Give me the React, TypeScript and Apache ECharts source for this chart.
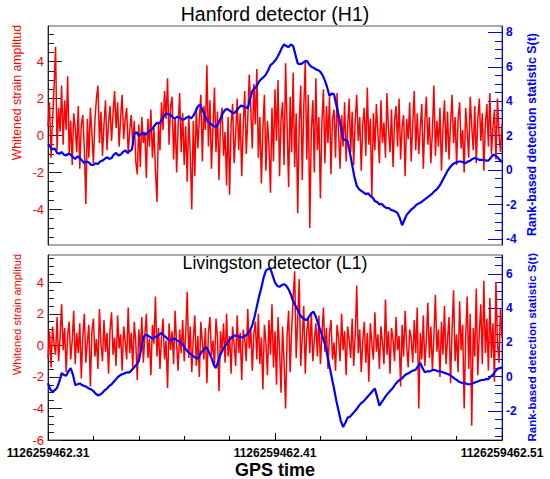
import React, { useEffect, useRef } from "react";
import * as echarts from "echarts";

// ---------- data ----------
const xTickLabels = ["1126259462.31", "1126259462.41", "1126259462.51"];
const xSpan = 0.2; // seconds shown

// Hanford whitened strain (left axis)
const h1Strain = [
  0.5, 1.8, -1.2, 0.9, 2.6, 4.8, -0.8, 1.5, 0.2, 2.7,
  -0.5, 1.9, 0.3, 3.2, -1.0, 0.8, -1.6, 1.2, 0.4, -0.9,
  1.6, -1.8, 0.6, 1.1, -0.7, -3.7, 0.9, -1.2, 1.5, 0.1,
  -1.5, 0.8, 2.0, 2.7, -0.4, 1.3, -1.1, 0.6, 1.9, -0.8,
  0.7, 1.6, -0.3, 1.2, 2.4, 0.4, 1.8, -0.6, 1.0, 2.2,
  -0.2, 0.9, 1.5, -1.0, 0.3, 1.1, -0.5, 0.8, -1.4, -2.1,
  0.6, -1.7, 1.0, -0.4, 0.2, -2.3, 0.9, -0.6, 1.4, -1.2,
  0.4, -1.9, -3.6, 0.7, -0.8, 1.8, 0.3, 2.4, 0.9, 3.1,
  -0.5, 1.6, 2.1, -1.3, 1.0, -2.0, 0.6, 2.3, -0.9, 1.2,
  -1.6, 0.5, -2.5, 1.1, -1.0, -4.0, 0.8, -2.2, 1.5, -0.7,
  0.9, 2.2, -1.4, 1.6, 0.3, 3.8, -0.6, 1.9, -1.8, 0.4,
  2.6, -0.9, 1.3, -2.4, 0.7, 1.5, -1.1, 0.2, -2.7, 1.0,
  -3.2, 0.6, 1.7, -1.5, 0.1, 2.0, -0.8, 1.2, -2.2, 0.5,
  2.4, -1.0, 0.9, 3.3, 1.4, -0.7, 2.8, 0.6, 3.6, -1.2,
  1.0, -2.6, 0.4, 2.2, -1.9, 0.8, -0.5, -3.1, 1.5, -1.4,
  2.5, -0.3, 3.0, -2.2, 0.9, 1.8, -1.6, 3.9, 0.5, -2.8,
  2.1, -0.9, 3.4, -1.7, 1.2, -4.2, 0.6, 2.7, -2.4, 1.5,
  4.0, -1.3, 2.2, -5.0, 0.3, 1.9, -2.0, 3.1, -0.8, 1.0,
  -3.4, 0.7, 2.5, -1.5, 1.6, -0.4, 2.1, -2.1, 0.9, 1.4,
  -1.2, 2.3, 0.2, -1.8, 1.1, -0.6, 1.8, -1.4, 0.5, 2.0,
  -0.9, 1.3, -1.6, 0.8, 2.2, -0.3, 1.0, -1.9, 0.6, 1.5,
  -1.1, 2.6, -0.5, 0.9, -3.3, 1.2, -0.8, 1.7, 0.1, -1.5,
  1.9, -0.4, 0.7, -1.2, 2.3, 0.3, -0.9, 1.4, -1.7, 0.8,
  1.6, -0.6, 2.0, -1.3, 0.5, 1.1, -2.2, 0.9, -0.2, 1.8,
  -1.4, 0.6, 2.4, -0.8, 1.2, -1.0, 0.4, 1.7, -1.8, 0.7,
  2.1, -0.5, 1.0, -1.5, 0.2, 2.7, -1.1, 0.8, -0.6, 1.5,
  -1.9, 0.4, 1.9, -0.9, 1.3, -1.3, 0.6, 2.2, -0.4, 1.0,
  -1.6, 0.9, 1.8, -0.7, 0.3, -2.0, 1.5, 0.2, -1.2, 2.1,
  0.5, -0.8, 1.6, -1.5, 0.9, 2.0, -0.3, 1.2, -1.9, 0.6,
  1.7, -0.6, 2.3, -1.0, 0.4, 1.4, -1.3, 2.0, 0.1, -0.9,
  0.6,
];

// Hanford rank-based statistic S(t) (right axis)
const h1Rank = [
  1.5, 1.35, 1.2, 1.25, 1.0, 0.95, 1.05, 0.9, 0.85, 0.95,
  0.9, 0.75, 0.65, 0.8, 0.7, 0.55, 0.4, 0.5, 0.45, 0.3,
  0.3, 0.4, 0.35, 0.5, 0.55, 0.65, 0.75, 0.65, 0.7, 0.9,
  1.0, 0.85, 0.9, 1.05, 1.15, 1.0, 1.1, 1.2, 2.1, 2.2,
  2.0, 2.1, 2.15, 2.05, 2.2, 2.3, 2.4, 2.6, 2.75, 2.7,
  2.9, 3.1, 3.3, 3.25, 3.2, 3.05, 3.0, 3.1, 3.05, 2.95,
  2.95, 3.05, 3.1, 3.0, 3.15, 3.4, 3.7, 3.8, 3.5, 3.2,
  2.9, 2.75, 2.65, 2.55, 2.5, 2.7, 3.0, 3.3, 3.5, 3.55,
  3.45, 3.35, 3.3, 3.45, 3.6, 3.75, 3.7, 3.65, 3.6, 4.1,
  4.6, 4.75, 4.9, 5.15, 5.3, 5.4, 5.55, 5.8, 6.1, 6.2,
  6.35, 6.55, 6.8, 7.1, 7.3, 7.2, 7.15, 7.3, 7.2, 6.7,
  6.2, 6.15, 6.2, 6.3, 6.35, 6.15, 6.0, 5.95, 5.85, 5.8,
  5.7, 5.5, 5.2, 4.8, 4.3, 4.45, 4.4, 3.8, 3.2, 2.5,
  1.8, 1.75, 1.7, 1.0, 0.3, -0.4, -0.9, -1.1, -1.2, -1.3,
  -1.4, -1.35, -1.5, -1.6, -1.8, -1.85, -2.0, -1.95, -2.1, -2.2,
  -2.2, -2.3, -2.35, -2.4, -2.5, -2.8, -3.2, -2.9, -2.6, -2.45,
  -2.3, -2.2, -2.05, -1.95, -1.9, -1.8, -1.7, -1.6, -1.5, -1.4,
  -1.25, -1.15, -1.0, -0.8, -0.55, -0.3, -0.05, 0.15, 0.3, 0.4,
  0.45, 0.5, 0.5, 0.45, 0.4, 0.5, 0.55, 0.65, 0.7, 0.65,
  0.6, 0.6, 0.6, 0.55, 0.55, 0.7, 0.9, 0.85, 0.75, 0.6,
  0.45,
];

// Livingston whitened strain (left axis)
const l1Strain = [
  -0.8, 0.9, -1.4, 1.2, 0.1, -0.6, 1.8, -1.0, 0.5, 2.6,
  -0.3, 1.1, -1.7, 0.7, 1.5, -0.9, 0.3, 2.2, -1.2, 0.8,
  -0.5, 1.4, -2.1, 0.6, 2.0, -1.1, 0.2, 1.3, -2.6, 0.9,
  1.7, -0.7, 0.4, -1.5, 2.3, 0.1, -1.0, 1.6, -0.4, 0.8,
  -1.8, 1.0, 2.1, -0.6, 0.5, -1.3, 1.9, -0.2, 0.7, -1.6,
  1.2, 0.3, -0.9, 2.4, -0.5, 0.8, -1.4, 1.5, 0.2, -2.2,
  1.0, -0.4, 1.8, -1.1, 0.6, 2.0, -0.8, 0.4, -1.9, 1.3,
  0.1, 3.1, -0.7, 1.1, -1.5, 0.5, 1.7, -0.9, 0.3, -2.7,
  1.4, -0.3, 0.9, -1.2, 2.2, 0.0, -1.6, 1.0, -0.5, 1.6,
  -1.0, 0.7, 3.4, -0.8, 1.2, -1.7, 0.4, 1.9, -1.3, 0.6,
  -2.0, 1.5, 0.2, -0.9, 1.1, -2.4, 0.8, 1.8, -0.6, 0.3,
  -1.4, 1.7, 0.5, -2.9, 0.9, -0.4, 1.4, -1.1, 2.0, -0.7,
  0.6, -1.8, 1.2, 0.1, -1.3, 1.9, -0.5, 0.8, -2.2, 1.0,
  0.4, -1.0, 2.3, -0.2, 1.1, -1.6, 0.7, 1.5, -0.9, 2.0,
  -1.2, 0.5, -2.8, 1.3, 0.2, -1.9, 1.6, -0.6, 2.6, -1.4,
  0.9, -2.5, 1.8, -0.3, -3.0, 1.2, -1.1, -4.0, 0.6, 2.2,
  -1.7, 1.0, 3.0, 4.7, -0.8, 1.6, 4.2, -1.3, 0.4, 2.5,
  -1.8, 0.9, 1.7, -0.5, 2.1, -1.0, 0.3, 1.4, -0.7, 1.9,
  -1.2, 0.6, 2.4, -0.4, 1.1, -1.5, 0.8, 1.6, -0.9, 0.2,
  -1.6, 1.3, 0.5, -1.0, 2.0, -0.3, 0.9, -1.9, 1.2, 0.4,
  -0.8, 1.7, -1.3, 0.6, 3.8, -0.5, 1.0, -1.7, 0.3, 1.5,
  -1.1, 0.8, -2.3, 1.4, 0.1, -0.9, 2.1, -0.4, 0.7, -1.5,
  1.2, 0.2, -1.2, 2.9, -0.6, 0.9, -1.8, 1.1, 0.4, -1.0,
  1.8, -0.3, 0.6, -2.6, 1.3, -0.7, 2.2, 0.0, -1.4, 1.0,
  0.5, -1.1, 1.6, -0.5, 2.4, -4.0, 0.8, -0.9, 1.9, -1.3,
  0.3, 2.7, -0.8, 1.2, -1.6, 0.6, 3.2, -0.4, 1.0, -2.0,
  1.5, -0.6, 2.5, -1.2, 0.4, 1.8, -2.4, 0.9, 3.5, -1.0,
  0.7, -1.7, 2.8, -0.3, 1.3, -4.0, 0.5, 3.1, -1.5, 2.0,
  -5.1, 1.1, -0.7, 3.6, -1.9, 0.8, 2.6, -1.2, 4.1, -0.5,
  1.7, -1.6, 3.0, -0.8, 1.4, -2.3, 4.0, 0.2, -1.1, 2.3,
  0.5,
];

// Livingston rank-based statistic S(t) (right axis)
const l1Rank = [
  -0.4, -0.75, -0.9, -0.8, -0.65, -0.3, 0.2, 0.1, 0.05, 0.3,
  0.5, 0.1, -0.5, -0.45, -0.4, -0.5, -0.55, -0.6, -0.7, -0.75,
  -0.85, -1.0, -1.1, -1.05, -0.95, -0.8, -0.7, -0.55, -0.45, -0.3,
  -0.15, 0.0, 0.1, 0.15, 0.2, 0.25, 0.25, 0.4, 0.55, 0.7,
  0.9, 1.6, 2.3, 2.45, 2.4, 2.3, 2.2, 2.3, 2.35, 2.45,
  2.55, 2.4, 2.3, 2.15, 2.1, 2.2, 2.2, 2.1, 2.05, 1.9,
  1.75, 1.55, 1.4, 1.3, 1.2, 1.1, 1.05, 1.3, 1.5, 1.65,
  1.7, 1.4, 1.1, 0.7, 0.5, 0.9, 1.3, 1.55, 1.8, 2.0,
  2.15, 2.3, 2.4, 2.4, 2.35, 2.3, 2.3, 2.4, 2.5, 2.7,
  3.0, 3.5, 4.1, 4.7, 5.2, 5.8, 6.2, 6.3, 6.3, 5.9,
  5.5, 5.3, 5.25, 5.35, 5.4, 5.3, 5.1, 4.8, 4.4, 4.15,
  3.9, 3.6, 3.45, 3.35, 3.3, 3.5, 3.7, 3.8, 3.5, 3.1,
  2.7, 2.3, 1.9, 1.3, 0.6, -0.05, -0.7, -1.4, -2.0, -2.6,
  -2.95, -2.7, -2.4, -2.35, -2.2, -2.05, -1.9, -1.7, -1.55, -1.45,
  -1.3, -1.15, -1.0, -0.85, -0.7, -1.2, -1.7, -1.5, -1.3, -1.1,
  -0.95, -0.8, -0.65, -0.45, -0.3, -0.2, -0.1, 0.05, 0.15, 0.2,
  0.3, 0.35, 0.4, 0.6, 0.8, 0.5, 0.25, 0.3, 0.3, 0.35,
  0.4, 0.35, 0.3, 0.3, 0.25, 0.2, 0.15, 0.1, 0.0, -0.1,
  -0.2, -0.3, -0.35, -0.4, -0.4, -0.45, -0.45, -0.4, -0.35, -0.3,
  -0.25, -0.2, -0.2, -0.15, -0.15, 0.0, 0.1, 0.3, 0.45, 0.5,
  0.55,
];

// axis ranges and tick values
const h1StrainRange = [-5.92, 5.92];
const h1RankRange = [-4.35, 8.37];
const l1StrainRange = [-6, 5.73];
const l1RankRange = [-3.71, 7.11];
const h1StrainTicks = [-4, -2, 0, 2, 4];
const h1RankTicks = [-4, -2, 0, 2, 4, 6, 8];
const l1StrainTicks = [-6, -4, -2, 0, 2, 4];
const l1RankTicks = [-2, 0, 2, 4, 6];

const RED = "#ff0000";
const BLUE = "#0000ff";
const FONT = "Liberation Sans";

function toPairs(arr: number[]) {
  return arr.map((v, i) => [(i * xSpan) / (arr.length - 1), v]);
}

function halfSteps(range: number[]) {
  const out: number[] = [];
  for (let v = Math.ceil(range[0] * 2) / 2; v <= range[1] + 1e-9; v += 0.5) {
    out.push(Math.round(v * 2) / 2);
  }
  return out;
}

function majorAxis(grid: number, pos: "left" | "right", range: number[], ticks: number[], color: string, bold: boolean, lineColor: string) {
  return {
    type: "value",
    gridIndex: grid,
    position: pos,
    min: range[0],
    max: range[1],
    axisLine: { show: true, onZero: false, lineStyle: { color: lineColor, width: 1 } },
    axisTick: { show: true, inside: true, length: 14, customValues: ticks, lineStyle: { color: lineColor, width: 1 } },
    axisLabel: {
      show: true,
      customValues: ticks,
      color,
      fontFamily: FONT,
      fontSize: bold ? 12 : 13,
      fontWeight: bold ? "bold" : "normal",
      margin: 4,
    },
    splitLine: { show: false },
  };
}

function minorAxis(grid: number, pos: "left" | "right", range: number[], lineColor: string, len: number) {
  return {
    type: "value",
    gridIndex: grid,
    position: pos,
    min: range[0],
    max: range[1],
    axisLine: { show: false },
    axisTick: { show: true, inside: true, length: len, customValues: halfSteps(range), lineStyle: { color: lineColor, width: 1 } },
    axisLabel: { show: false },
    splitLine: { show: false },
  };
}

export default function App() {
  const ref = useRef<HTMLDivElement>(null);

  useEffect(() => {
    if (!ref.current) return;
    const chart = echarts.init(ref.current, null, { renderer: "svg" });

    const option: any = {
      animation: false,
      backgroundColor: "#ffffff",
      grid: [
        { left: 48, right: 48, top: 26, height: 219, show: true, borderColor: "#555", borderWidth: 1, backgroundColor: "transparent", containLabel: false },
        { left: 48, right: 48, top: 255, height: 185, show: true, borderColor: "#555", borderWidth: 1, backgroundColor: "transparent", containLabel: false },
      ],
      xAxis: [
        { type: "value", gridIndex: 0, min: 0, max: xSpan, show: false },
        {
          type: "value",
          gridIndex: 1,
          min: 0,
          max: xSpan,
          interval: 0.1,
          axisLine: { show: true, onZero: false, lineStyle: { color: "#000", width: 1 } },
          axisTick: { show: true, inside: true, length: 7, lineStyle: { color: "#000" } },
          minorTick: { show: true, splitNumber: 5, length: 4, lineStyle: { color: "#000" } },
          splitLine: { show: false },
          minorSplitLine: { show: false },
          axisLabel: {
            show: true,
            showMinLabel: true,
            showMaxLabel: true,
            hideOverlap: false,
            formatter: (v: number) => xTickLabels[Math.round(v / 0.1)] ?? "",
            color: "#000",
            fontFamily: FONT,
            fontSize: 12,
            fontWeight: "bold",
            margin: 7,
            lineHeight: 12,
          },
        },
      ],
      yAxis: [
        majorAxis(0, "left", h1StrainRange, h1StrainTicks, RED, false, "#222"),
        minorAxis(0, "left", h1StrainRange, "#222", 6),
        majorAxis(0, "right", h1RankRange, h1RankTicks, BLUE, true, BLUE),
        minorAxis(0, "right", h1RankRange, BLUE, 7),
        majorAxis(1, "left", l1StrainRange, l1StrainTicks, RED, false, "#222"),
        minorAxis(1, "left", l1StrainRange, "#222", 6),
        majorAxis(1, "right", l1RankRange, l1RankTicks, BLUE, true, BLUE),
        minorAxis(1, "right", l1RankRange, BLUE, 7),
      ],
      series: [
        { type: "line", name: "H1 strain", xAxisIndex: 0, yAxisIndex: 0, data: toPairs(h1Strain), showSymbol: false, symbol: "none", lineStyle: { color: RED, width: 1.5 }, z: 2 },
        { type: "line", name: "H1 S(t)", xAxisIndex: 0, yAxisIndex: 2, data: toPairs(h1Rank), showSymbol: false, symbol: "none", lineStyle: { color: BLUE, width: 2.2 }, z: 3 },
        { type: "line", name: "L1 strain", xAxisIndex: 1, yAxisIndex: 4, data: toPairs(l1Strain), showSymbol: false, symbol: "none", lineStyle: { color: RED, width: 1.5 }, z: 2 },
        { type: "line", name: "L1 S(t)", xAxisIndex: 1, yAxisIndex: 6, data: toPairs(l1Rank), showSymbol: false, symbol: "none", lineStyle: { color: BLUE, width: 2.2 }, z: 3 },
      ],
      graphic: [
        { type: "text", x: 275, y: 14, z: 10, style: { text: "Hanford detector (H1)", fill: "#000", font: `19.5px "${FONT}"`, textAlign: "center", textVerticalAlign: "middle" } },
        { type: "text", x: 275, y: 263, z: 10, style: { text: "Livingston detector (L1)", fill: "#000", font: `17.7px "${FONT}"`, textAlign: "center", textVerticalAlign: "middle" } },
        { type: "text", x: 275, y: 469.5, z: 10, style: { text: "GPS time", fill: "#000", font: `bold 18px "${FONT}"`, textAlign: "center", textVerticalAlign: "middle" } },
        { type: "text", x: 17, y: 25, rotation: Math.PI / 2, z: 10, style: { text: "Whitened strain amplitud", fill: RED, font: `12.3px "${FONT}"`, textAlign: "right", textVerticalAlign: "middle" } },
        { type: "text", x: 17, y: 254, rotation: Math.PI / 2, z: 10, style: { text: "Whitened strain amplitud", fill: RED, font: `11px "${FONT}"`, textAlign: "right", textVerticalAlign: "middle" } },
        { type: "text", x: 532, y: 33, rotation: Math.PI / 2, z: 10, style: { text: "Rank-based detection statistic S(t)", fill: BLUE, font: `bold 12.4px "${FONT}"`, textAlign: "right", textVerticalAlign: "middle" } },
        { type: "text", x: 532, y: 253, rotation: Math.PI / 2, z: 10, style: { text: "Rank-based detection statistic S(t)", fill: BLUE, font: `bold 11.5px "${FONT}"`, textAlign: "right", textVerticalAlign: "middle" } },
      ],
    };

    chart.setOption(option);
    return () => chart.dispose();
  }, []);

  return <div ref={ref} style={{ position: "fixed", left: 0, top: 0, width: 550, height: 479 }} />;
}
